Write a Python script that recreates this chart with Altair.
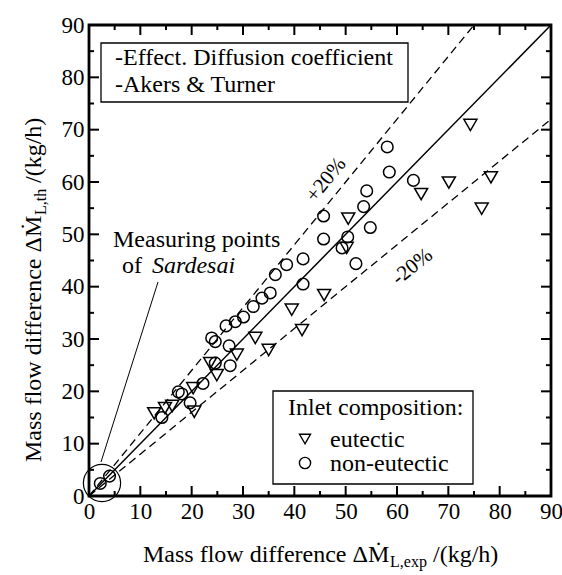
import altair as alt
import pandas as pd

# ---- data ----
eut_x = [74.3, 70.1, 64.7, 78.3, 76.5, 50.5, 50.2, 45.8, 41.5, 39.5, 32.4, 35.0, 28.8, 23.6, 24.9, 20.3, 20.5, 14.8, 12.7, 16.2]
eut_y = [70.9, 59.9, 57.7, 60.9, 54.9, 53.0, 47.4, 38.4, 31.7, 35.6, 30.2, 27.9, 27.0, 25.4, 23.1, 20.6, 16.1, 16.8, 15.8, 17.2]

non_x = [58.1, 58.5, 63.2, 54.1, 53.5, 54.8, 50.4, 49.3, 52.0, 45.7, 45.7, 41.7, 41.7, 38.5, 36.3, 35.3,
         33.7, 32.0, 30.1, 28.5, 26.7, 23.9, 24.6, 27.3, 24.6, 27.5, 22.2, 17.4, 18.1, 19.7, 14.2, 2.2, 4.0]
non_y = [66.7, 61.9, 60.3, 58.3, 55.3, 51.3, 49.5, 47.4, 44.4, 53.5, 49.1, 45.3, 40.5, 44.2, 42.3, 38.8,
         37.8, 36.2, 34.2, 33.3, 32.5, 30.2, 29.5, 28.7, 25.4, 24.9, 21.5, 19.9, 19.5, 17.8, 15.0, 2.4, 3.8]

line_fit_x = [0, 90]
line_fit_y = [0, 90]
line_plus_x = [0, 75]
line_plus_y = [0, 90]
line_minus_x = [0, 90]
line_minus_y = [0, 72]

tick_labels = [0, 10, 20, 30, 40, 50, 60, 70, 80, 90]
ticks_major = [10, 20, 30, 40, 50, 60, 70, 80]
ticks_minor = [5, 15, 25, 35, 45, 55, 65, 75, 85]

W, H = 462, 471
FONT = "Liberation Serif"
FS = 24

xs = alt.Scale(domain=[0, 90], nice=False, zero=False)
ys = alt.Scale(domain=[0, 90], nice=False, zero=False)
XAX = alt.Axis(values=tick_labels, title=None, labelPadding=4, labelFlush=False)
YAX = alt.Axis(values=tick_labels, title=None, labelPadding=5, labelFlush=False)


def X(f):
    return alt.X(f, scale=xs, axis=XAX)


def Y(f):
    return alt.Y(f, scale=ys, axis=YAX)


fit = pd.DataFrame({"x": line_fit_x, "y": line_fit_y})
dashed = pd.DataFrame({
    "x": line_plus_x + line_minus_x,
    "y": line_plus_y + line_minus_y,
    "k": ["plus", "plus", "minus", "minus"],
})
eut = pd.DataFrame({"x": eut_x, "y": eut_y})
non = pd.DataFrame({"x": non_x, "y": non_y})

layers = []

layers.append(alt.Chart(fit).mark_line(color="black", strokeWidth=1.5).encode(x=X("x:Q"), y=Y("y:Q")))

layers.append(alt.Chart(dashed).mark_line(color="black", strokeWidth=1.3, strokeDash=[8, 5]).encode(
    x=X("x:Q"), y=Y("y:Q"), detail="k:N"))

layers.append(alt.Chart(eut).mark_point(shape="triangle-down", filled=False, size=170, strokeWidth=1.5,
                                        color="black", opacity=1).encode(x=X("x:Q"), y=Y("y:Q")))
layers.append(alt.Chart(non).mark_point(shape="circle", filled=False, size=135, strokeWidth=1.5,
                                        color="black", opacity=1).encode(x=X("x:Q"), y=Y("y:Q")))

# inward ticks on all four sides
for vals, L in ((ticks_major, 10), (ticks_minor, 5)):
    tdf = pd.DataFrame({"t": vals})
    layers.append(alt.Chart(tdf).mark_rule(color="black", strokeWidth=2).encode(
        x=X("t:Q"), y=alt.value(H), y2=alt.value(H - L)))
    layers.append(alt.Chart(tdf).mark_rule(color="black", strokeWidth=2).encode(
        x=X("t:Q"), y=alt.value(0), y2=alt.value(L)))
    layers.append(alt.Chart(tdf).mark_rule(color="black", strokeWidth=2).encode(
        y=Y("t:Q"), x=alt.value(0), x2=alt.value(L)))
    layers.append(alt.Chart(tdf).mark_rule(color="black", strokeWidth=2).encode(
        y=Y("t:Q"), x=alt.value(W), x2=alt.value(W - L)))

one = pd.DataFrame({"a": [0]})


def txt(s, x, y, size=FS, align="left", angle=0, style="normal", baseline="alphabetic"):
    kw = dict(text=s, font=FONT, fontSize=size, align=align, baseline=baseline, color="black", fontStyle=style)
    if angle:
        kw["angle"] = angle
    return alt.Chart(one).mark_text(**kw).encode(x=alt.value(x), y=alt.value(y))


def box(x1, y1, x2, y2):
    return alt.Chart(one).mark_rect(fill="white", stroke="black", strokeWidth=1.3).encode(
        x=alt.value(x1), x2=alt.value(x2), y=alt.value(y1), y2=alt.value(y2))


# model legend box (top-left)
layers.append(box(12, 18, 319, 77))
layers.append(txt("-Effect. Diffusion coefficient", 26, 40))
layers.append(txt("-Akers & Turner", 26, 67))

# inlet composition legend box
layers.append(box(184, 366, 384, 459))
layers.append(txt("Inlet composition:", 199, 390))
layers.append(alt.Chart(one).mark_point(shape="triangle-down", filled=False, size=120, strokeWidth=1.4,
                                        color="black", opacity=1).encode(x=alt.value(216), y=alt.value(414)))
layers.append(txt("eutectic", 241, 422))
layers.append(alt.Chart(one).mark_point(shape="circle", filled=False, size=125, strokeWidth=1.4,
                                        color="black", opacity=1).encode(x=alt.value(216), y=alt.value(438)))
layers.append(txt("non-eutectic", 241, 446))

# +/-20 % labels
layers.append(alt.Chart(one).mark_text(text="+20%", font=FONT, fontSize=21, angle=309, color="black",
                                       align="center", baseline="middle").encode(
    x=alt.datum(46.2, scale=xs), y=alt.datum(60.4, scale=ys)))
layers.append(alt.Chart(one).mark_text(text="-20%", font=FONT, fontSize=21, angle=321, color="black",
                                       align="center", baseline="middle").encode(
    x=alt.datum(63.0, scale=xs), y=alt.datum(43.8, scale=ys)))

# Sardesai annotation
layers.append(txt("Measuring points", 24, 222))
layers.append(txt("of", 33, 248))
layers.append(txt("Sardesai", 63, 248, style="italic"))
layers.append(alt.Chart(one).mark_rule(color="black", strokeWidth=1).encode(
    x=alt.value(69), y=alt.value(257), x2=alt.value(12), y2=alt.value(437)))
layers.append(alt.Chart(one).mark_point(shape="circle", filled=False, size=1385, strokeWidth=1.2,
                                        color="black", opacity=1).encode(x=alt.value(13), y=alt.value(458)))

# axis titles with subscripts
layers.append(txt("Mass flow difference ΔṀ", 54, 537))
layers.append(txt("L,exp", 301, 542, size=16))
layers.append(txt("/(kg/h)", 344, 537))

layers.append(txt("Mass flow difference ΔṀ", -48, 437, angle=270))
layers.append(txt("L,th", -43, 190, size=16, angle=270))
layers.append(txt("/(kg/h)", -48, 158, angle=270))

chart = alt.layer(*layers).properties(
    width=W, height=H,
    autosize=alt.AutoSizeParams(type="none"),
    padding={"left": 89, "top": 25, "right": 11, "bottom": 79},
).configure_view(
    stroke="black", strokeWidth=2.8
).configure_axis(
    domain=False, ticks=False, grid=False,
    labelFont=FONT, labelFontSize=23, labelColor="black",
)

chart.save("out.html", embed_options={"renderer": "svg", "actions": False})
